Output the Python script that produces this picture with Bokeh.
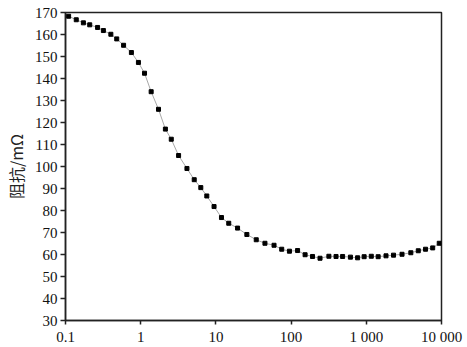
from bokeh.plotting import figure
from bokeh.models import FixedTicker, Range1d
from bokeh.embed import file_html
from bokeh.resources import INLINE

# Frequency values (log axis) and impedance (mΩ)
freq = [0.110, 0.139, 0.173, 0.210, 0.267, 0.319, 0.401, 0.480, 0.592, 0.752,
        0.933, 1.124, 1.378, 1.725, 2.13, 2.55, 3.19, 4.12, 5.15, 6.30,
        7.57, 9.45, 11.86, 14.82, 19.41, 25.8, 34.4, 44.9, 59.3, 75.0,
        95.0, 121.9, 153.5, 192.7, 242.5, 318, 396, 484, 615, 766,
        936, 1165, 1438, 1828, 2301, 2986, 3910, 4911, 6134, 7638, 9333]
impedance = [168.3, 166.7, 165.3, 164.4, 163.2, 161.8, 160.1, 158.0, 155.1, 151.8,
             147.3, 142.4, 134.0, 126.0, 117.0, 112.4, 105.0, 99.1, 94.0, 90.4,
             86.6, 81.8, 76.8, 74.2, 72.0, 69.1, 66.7, 65.1, 64.2, 62.4,
             61.5, 61.8, 59.9, 59.1, 58.3, 59.2, 59.1, 59.1, 58.8, 58.5,
             59.0, 59.2, 59.0, 59.4, 59.7, 60.1, 60.8, 61.7, 62.4, 63.0, 65.1]

x_ticks = [0.1, 1, 10, 100, 1000, 10000]
x_tick_labels = ["0.1", "1", "10", "100", "1 000", "10 000"]
y_ticks = list(range(30, 171, 10))

p = figure(width=467, height=347, x_axis_type="log",
           output_backend="svg", toolbar_location=None,
           min_border_left=57, min_border_right=26,
           min_border_top=12, min_border_bottom=27)
p.x_range = Range1d(0.1, 10000)
p.y_range = Range1d(30, 170)

p.line(freq, impedance, line_color="#a8a8a8", line_width=1)
p.scatter(freq, impedance, marker="square", size=4,
          fill_color="black", line_color="black")

p.xgrid.visible = False
p.ygrid.visible = False
p.outline_line_color = "#222222"
p.outline_line_width = 1.5
p.background_fill_color = "white"
p.border_fill_color = "white"

font = "Liberation Serif"
p.xaxis.ticker = FixedTicker(ticks=x_ticks)
p.xaxis.major_label_overrides = {t: l for t, l in zip(x_ticks, x_tick_labels)}
p.yaxis.ticker = FixedTicker(ticks=y_ticks)

for ax in (p.xaxis[0], p.yaxis[0]):
    ax.axis_line_color = "#222222"
    ax.axis_line_width = 1.5
    ax.major_tick_line_color = "#222222"
    ax.major_tick_line_width = 1.5
    ax.major_tick_in = 0
    ax.minor_tick_line_color = None
    ax.major_label_text_font = font
    ax.major_label_text_font_size = "15px"
    ax.major_label_text_color = "#111111"

p.xaxis.major_tick_out = 4
p.xaxis.major_label_standoff = 4
p.yaxis.major_tick_out = 5
p.yaxis.major_label_standoff = 3

p.yaxis.axis_label = "阻抗/mΩ"
p.yaxis.axis_label_text_font = "Noto Sans CJK SC"
p.yaxis.axis_label_text_font_size = "16px"
p.yaxis.axis_label_text_font_style = "normal"
p.yaxis.axis_label_text_color = "#222222"
p.yaxis.axis_label_standoff = 4

open("out.html", "w").write(file_html(p, INLINE))
